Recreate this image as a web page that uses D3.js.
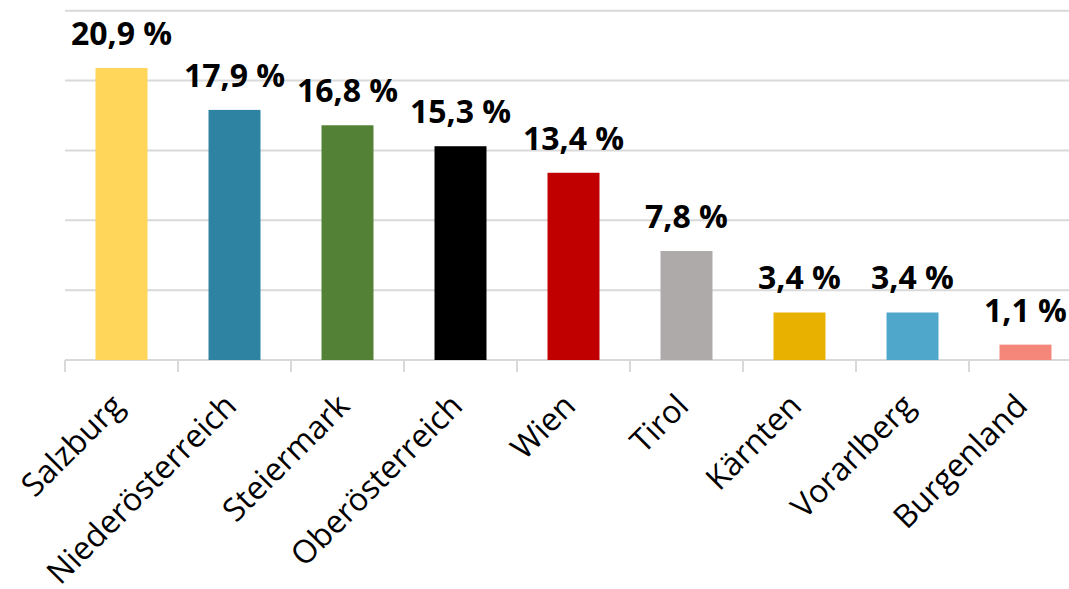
<!DOCTYPE html>
<html>
<head>
<meta charset="utf-8">
<script src="https://cdn.jsdelivr.net/npm/d3@7"></script>
<style>
  body { margin: 0; background: #fff; }
  svg { display: block; }
</style>
</head>
<body>
<svg width="1069" height="589"></svg>
<script>
// Daten
var regions = ["Salzburg", "Niederösterreich", "Steiermark", "Oberösterreich", "Wien",
               "Tirol", "Kärnten", "Vorarlberg", "Burgenland"];
var shares = [20.9, 17.9, 16.8, 15.3, 13.4, 7.8, 3.4, 3.4, 1.1];
var barColors = ["#FFD55A", "#2E83A3", "#538135", "#000000", "#C00000",
                 "#AEAAAA", "#E8B100", "#4FA8CB", "#F4877A"];
var gridTicks = [0, 5, 10, 15, 20, 25];

var svg = d3.select("svg");
var plotLeft = 65, plotRight = 1082, plotTop = 10.7, plotBottom = 360;

var x = d3.scaleBand()
    .domain(regions)
    .range([plotLeft, plotRight])
    .paddingInner(0.54)
    .paddingOuter(0.27);

var y = d3.scaleLinear()
    .domain([0, 25])
    .range([plotBottom, plotTop]);

// Gitterlinien
svg.append("g")
    .selectAll("line")
    .data(gridTicks)
    .enter()
    .append("line")
    .attr("x1", plotLeft)
    .attr("x2", plotRight)
    .attr("y1", d => y(d))
    .attr("y2", d => y(d))
    .attr("stroke", "#d9d9d9")
    .attr("stroke-width", 2);

// Tick marks between categories
var step = x.step();
svg.append("g")
    .selectAll("line")
    .data(d3.range(regions.length + 1))
    .enter()
    .append("line")
    .attr("x1", i => plotLeft + i * step)
    .attr("x2", i => plotLeft + i * step)
    .attr("y1", plotBottom)
    .attr("y2", plotBottom + 12)
    .attr("stroke", "#d9d9d9")
    .attr("stroke-width", 2);

// Balken
svg.append("g")
    .selectAll("rect")
    .data(shares)
    .enter()
    .append("rect")
    .attr("x", (d, i) => x(regions[i]))
    .attr("width", x.bandwidth())
    .attr("y", d => y(d))
    .attr("height", d => y(0) - y(d))
    .attr("fill", (d, i) => barColors[i]);

// Werte
svg.append("g")
    .selectAll("text")
    .data(shares)
    .enter()
    .append("text")
    .attr("x", (d, i) => x(regions[i]) + x.bandwidth() / 2)
    .attr("y", d => y(d) - 23)
    .attr("text-anchor", "middle")
    .style("font-family", "'Open Sans', sans-serif")
    .style("font-weight", "bold")
    .style("font-size", "32px")
    .attr("fill", "#000")
    .text(d => d.toFixed(1).replace(".", ",") + " %");

// Kategorien
svg.append("g")
    .selectAll("text")
    .data(regions)
    .enter()
    .append("text")
    .attr("transform", d => {
        var cx = x(d) + x.bandwidth() / 2 - 4;
        return "translate(" + cx + "," + (plotBottom + 40) + ") rotate(-45)";
    })
    .attr("text-anchor", "end")
    .attr("dy", "0.35em")
    .style("font-family", "'Open Sans', sans-serif")
    .style("font-size", "32px")
    .attr("fill", "#000")
    .text(d => d);
</script>
</body>
</html>
